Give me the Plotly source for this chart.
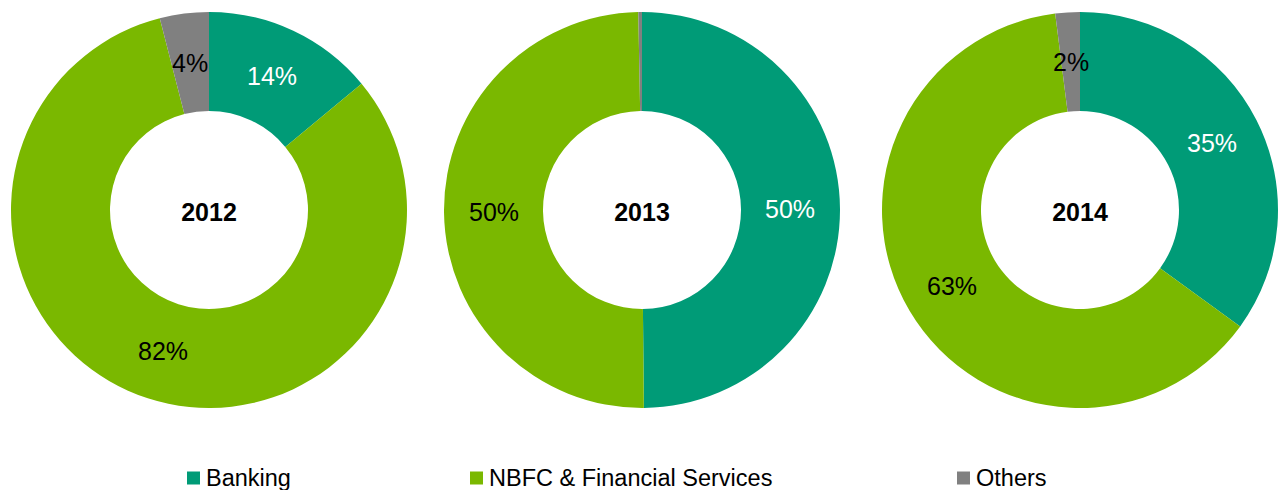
import math
import plotly.graph_objects as go

# ---- data ----
years = ["2012", "2013", "2014"]
segments = ["Banking", "NBFC & Financial Services", "Others"]
banking = [14, 50, 35]
nbfc = [82, 50, 63]
others = [4, 0.3, 2]

colors = ["#009B77", "#7AB800", "#808080"]
label_colors = ["white", "black", "black"]

W, H = 1284, 490
centers_x = [209, 642, 1080]   # px
center_y = 210                 # px from top
R = 198                        # outer radius px
HOLE = 0.5
FONT = "Arial, Liberation Sans, Helvetica, sans-serif"

fig = go.Figure()
annotations = []

for i, yr in enumerate(years):
    vals = [banking[i], nbfc[i], others[i]]
    cx = centers_x[i]
    fig.add_trace(go.Pie(
        labels=segments,
        values=vals,
        hole=HOLE,
        sort=False,
        direction="clockwise",
        rotation=0,
        marker=dict(colors=colors, line=dict(width=0)),
        textinfo="none",
        hoverinfo="label+percent",
        showlegend=False,
        domain=dict(x=[(cx - R) / W, (cx + R) / W],
                    y=[(H - center_y - R) / H, (H - center_y + R) / H]),
        title=dict(text=f"<b>{yr}</b>", position="middle center",
                   font=dict(family=FONT, size=25, color="black")),
    ))
    total = sum(vals)
    cum = 0.0
    rr = R * (1 + HOLE) / 2
    for j, v in enumerate(vals):
        pct = round(v / total * 100)
        mid = (cum + v / 2) / total * 360
        cum += v
        if pct == 0:
            continue
        xp = cx + rr * math.sin(math.radians(mid))
        yp = center_y - rr * math.cos(math.radians(mid))
        annotations.append(dict(
            x=xp / W, y=(H - yp) / H, xref="paper", yref="paper",
            text=f"{pct}%", showarrow=False, xanchor="center", yanchor="middle",
            font=dict(family=FONT, size=25, color=label_colors[j]),
        ))

# ---- legend (squares + labels) ----
legend_x = [187, 470, 957]
legend_y = 478
shapes = []
for j, name in enumerate(segments):
    x0 = legend_x[j]
    shapes.append(dict(type="rect", xref="paper", yref="paper",
                       x0=x0 / W, x1=(x0 + 13) / W,
                       y0=(H - legend_y - 6.5) / H, y1=(H - legend_y + 6.5) / H,
                       fillcolor=colors[j], line=dict(width=0)))
    annotations.append(dict(
        x=(x0 + 17) / W, y=(H - legend_y) / H, xref="paper", yref="paper",
        text=name, showarrow=False, xanchor="left", yanchor="middle",
        font=dict(family=FONT, size=23.5, color="black"),
    ))

fig.update_layout(
    width=W, height=H,
    margin=dict(l=0, r=0, t=0, b=0),
    paper_bgcolor="white",
    plot_bgcolor="white",
    annotations=annotations,
    shapes=shapes,
    font=dict(family=FONT),
)

fig.write_html(
    "out.html",
    config={"displayModeBar": False},
    post_script="document.body.style.margin='0';document.body.style.padding='0';",
)
